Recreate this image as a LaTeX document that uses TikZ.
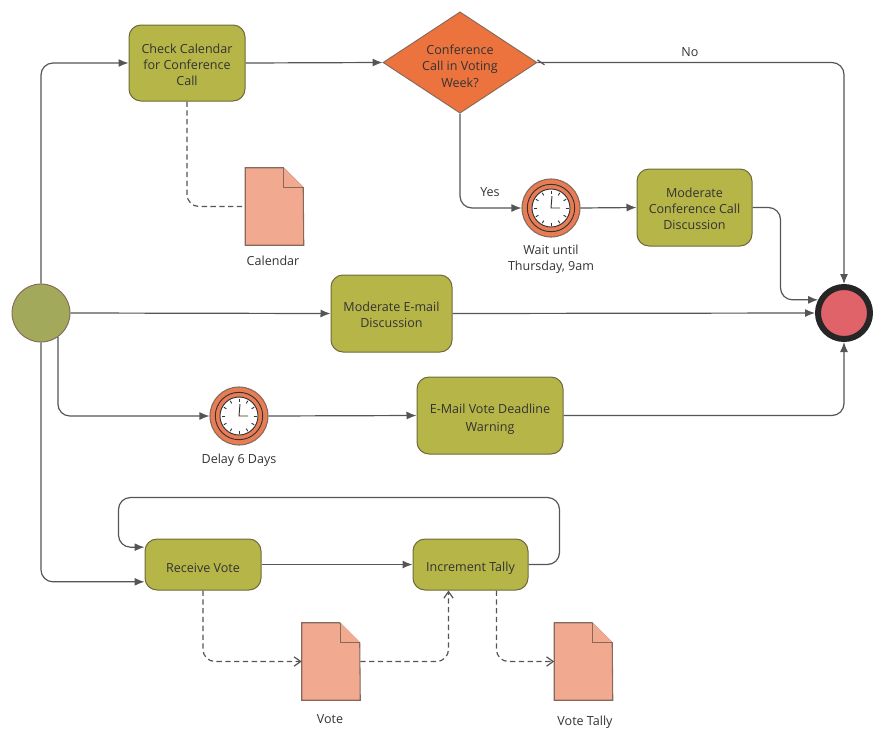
\documentclass[tikz,border=0pt]{standalone}
\usepackage{fontspec}
\setmainfont{Open Sans}
\usetikzlibrary{arrows.meta}
\usetikzlibrary{shapes.geometric}
\definecolor{taskfill}{HTML}{B6B548}
\definecolor{taskline}{HTML}{6E6A3C}
\definecolor{startfill}{HTML}{A2A95B}
\definecolor{orangefill}{HTML}{EC733E}
\definecolor{clockfill}{HTML}{E87C55}
\definecolor{docfill}{HTML}{F1A98F}
\definecolor{docline}{HTML}{85695A}
\definecolor{endfill}{HTML}{E0636A}
\definecolor{flowline}{HTML}{555555}
\definecolor{labeltext}{HTML}{333333}
\tikzset{
   task/.style={draw=taskline, fill=taskfill, rounded corners=9pt, align=center,
      text=labeltext, inner sep=0pt, line width=0.75pt},
   label/.style={text=labeltext, align=center, inner sep=0pt},
   flow/.style={draw=flowline, line width=0.9pt, rounded corners=9pt, -{Latex[length=7.5pt,width=6pt]}},
   plainflow/.style={draw=flowline, line width=0.9pt, rounded corners=9pt},
   assoc/.style={draw=flowline, line width=0.9pt, rounded corners=9pt, dashed, dash pattern=on 4pt off 2.6pt},
   assocarrow/.style={assoc, -{Straight Barb[length=5pt,width=7pt]}},
   docbox/.style={minimum width=43.5pt, minimum height=57.75pt, inner sep=0pt},
   docshape/.style={draw=docline, fill=docfill, line width=0.8pt},
   clockface/.style={circle, draw=docline, fill=clockfill, minimum size=43.5pt, inner sep=0pt, line width=0.8pt},
   clockring/.style={draw=labeltext, line width=0.7pt},
   clockhand/.style={draw=labeltext, line width=0.7pt}
}
\newcommand{\tstrut}{\rule[-1pt]{0pt}{11pt}}
\newcommand{\bstrut}{\rule[-0.2pt]{0pt}{12.4pt}}
\newcommand{\docnode}[2]{
   \node[docbox] (#1) at (#2) {};
   \draw[docshape] (#1.north west) -- ++(38,0) -- ++(20,20) -- (#1.south east) -- (#1.south west) -- cycle;
   \draw[docshape] ([xshift=-15pt]#1.north east) -- ++(0,20) -- ++(20,0);
}
\newcommand{\clocknode}[2]{
   \node[clockface] (#1) at (#2) {};
   \begin{scope}[shift={(#1.center)}]
      \draw[clockring] (0,0) circle (23.7);
      \draw[clockring, fill=white] (0,0) circle (19);
      \foreach \a in {0,30,...,330}
         \draw[clockhand] (\a:14.5) -- (\a:17.5);
      \draw[clockhand] (1,-12) -- (0,0) -- (9,0);
   \end{scope}
}
\begin{document}
\begin{tikzpicture}[x=0.75pt, y=-0.75pt, font=\fontsize{9.4pt}{12pt}\selectfont]
   \useasboundingbox (0,0) rectangle (886,740);

   % events
   \node[circle, draw=docline, fill=startfill, minimum size=43.5pt, inner sep=0pt, line width=0.7pt] (start) at (41,313) {};
   \node[circle, draw=black!85, fill=endfill, minimum size=39pt, inner sep=0pt, line width=4.5pt] (endev) at (844,313) {};

   % tasks
   \node[task, minimum width=87pt, minimum height=57pt] (checkcal) at (187,63) {\tstrut Check Calendar\\for Conference\\Call\tstrut};
   \node[diamond, draw=docline, fill=orangefill, text=labeltext, align=center, inner sep=0pt,
      minimum width=115.5pt, minimum height=76pt, line width=0.7pt] (votingweek) at (460,62.5) {};
   \node[label] (votingtext) at (460,65) {\tstrut Conference\\Call in Voting\\Week?\tstrut};
   \node[task, minimum width=86.25pt, minimum height=57.75pt] (modconf) at (694.5,207.5) {\tstrut Moderate\\Conference Call\\Discussion\tstrut};
   \node[task, minimum width=90.75pt, minimum height=57.75pt] (modmail) at (391.5,313.5) {\tstrut Moderate E-mail\\Discussion\tstrut};
   \node[task, minimum width=109.5pt, minimum height=57.75pt] (votewarn) at (490,415.5) {\bstrut E-Mail Vote Deadline\\Warning\bstrut};
   \node[task, minimum width=87pt, minimum height=38.25pt] (receive) at (203,564.5) {Receive Vote\bstrut};
   \node[task, minimum width=86.25pt, minimum height=38.25pt] (increment) at (470.5,564.5) {Increment Tally\bstrut};

   % timers
   \clocknode{waituntil}{551,208}
   \clocknode{delay}{239,416}
   \node[label] (waitlabel) at (551,257.5) {\tstrut Wait until\\Thursday, 9am\tstrut};
   \node[label] (delaylabel) at (239,458) {Delay 6 Days\tstrut};

   % documents
   \docnode{calendar}{274.5,206.5}
   \docnode{vote}{331,661.5}
   \docnode{votetally}{583.5,661.5}
   \node[label] (calendarlabel) at (273,259.5) {Calendar\tstrut};
   \node[label] (votelabel) at (330,717.5) {Vote\tstrut};
   \node[label] (tallylabel) at (585,720) {Vote Tally\tstrut};

   % flows
   \draw[flow] (start.north) |- (checkcal.west);
   \draw[flow] (checkcal.east) -- (votingweek.west);
   \draw[flow] (votingweek.east) -| (endev.north);
   \draw[plainflow] ([xshift=0pt,yshift=2pt]votingweek.east) -- ++(7,5);
   \draw[flow] (votingweek.south) |- (waituntil.west);
   \draw[flow] (waituntil.east) -- (modconf.west);
   \draw[flow] (modconf.east) -- ++(28,0) |- (endev.153);
   \draw[flow] (start.east) -- (modmail.west);
   \draw[flow] (modmail.east) -- (endev.west);
   \draw[flow] (start.-55) |- (delay.west);
   \draw[flow] (delay.east) -- (votewarn.west);
   \draw[flow] (votewarn.east) -| (endev.south);
   \draw[flow] (start.south) |- ([yshift=-13pt]receive.west);
   \draw[flow] (receive.east) -- (increment.west);
   \draw[flow] (increment.east) -- ++(31,0) -- ++(0,-67) -- ++(-441,0) |- ([yshift=13pt]receive.west);

   % associations
   \draw[assoc] (checkcal.south) |- (calendar.west);
   \draw[assocarrow] (receive.south) |- (vote.west);
   \draw[assocarrow] (vote.east) -| ([xshift=-16.5pt]increment.south);
   \draw[assocarrow] ([xshift=19.5pt]increment.south) |- (votetally.west);

   % branch labels
   \node[label] (nolabel) at (690,50) {No\tstrut};
   \node[label] (yeslabel) at (490,190) {Yes\tstrut};
\end{tikzpicture}
\end{document}
